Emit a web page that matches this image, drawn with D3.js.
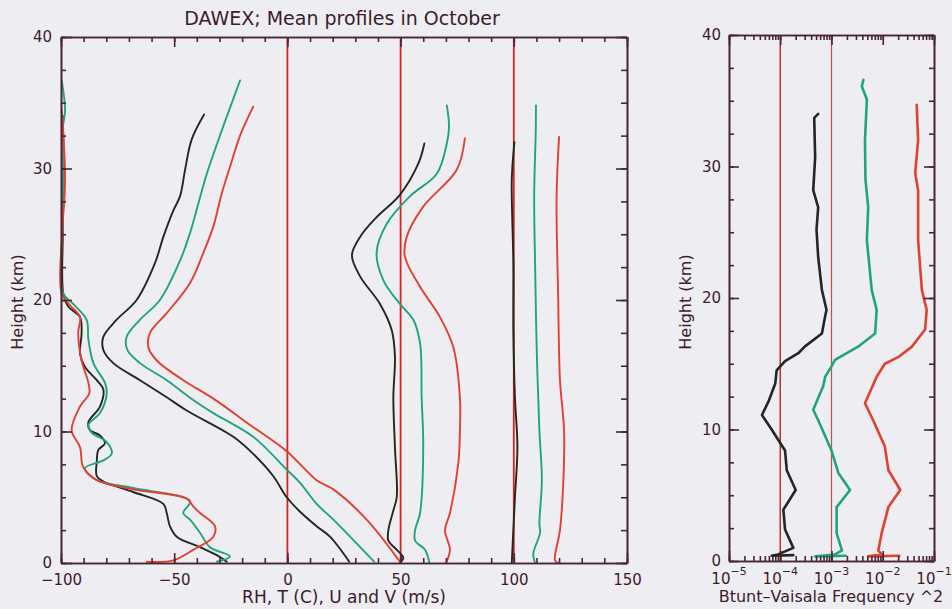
<!DOCTYPE html>
<html lang="en">
<head>
<meta charset="UTF-8">
<title>DAWEX; Mean profiles in October</title>
<script src="https://d3js.org/d3.v7.min.js"></script>
<style>
  body { margin: 0; background: #eeedf2; }
  svg { display: block; }
  text { font-family: "DejaVu Sans", sans-serif; fill: #3b1b2c; }
  .axis path, .axis line { stroke: #4a2438; stroke-width: 1.6; }
  .axis text { font-size: 15px; }
  .curve { fill: none; stroke-linejoin: round; stroke-linecap: round; }
</style>
</head>
<body>
<svg id="chart" width="952" height="609"></svg>
<script>
// tick labels and reference lines
const heightTicks = [0, 10, 20, 30, 40];
const xTickLabels = [-100, -50, 0, 50, 100, 150];
const refLines = [0, 50, 100];
const n2Decades = [1e-5, 1e-4, 1e-3, 1e-2, 1e-1];
const n2RefLines = [1e-4, 1e-3];

// profiles as [x value, height km]
const rhBlack = [[-99.2, 34.0], [-98.8, 30], [-99.2, 25], [-99, 20.5], [-96.8, 19.5], [-91.6, 18.7], [-90.9, 17.5], [-91.6, 15.9], [-89.4, 14.9], [-84.2, 13.9], [-81.3, 13.2], [-82.8, 11.9], [-87.9, 10.7], [-87.2, 10.1], [-82.8, 9.7], [-80.6, 9.1], [-83.5, 8.6], [-84.2, 7.7], [-84.2, 6.6], [-81.3, 6.2], [-68.1, 5.4], [-54.8, 4.5], [-53.3, 3.8], [-51.9, 2.8], [-48.9, 2.0], [-38.6, 1.2], [-31.2, 0.6], [-26.8, 0.1]];
const rhGreen = [[-99.7, 36.7], [-98.2, 34.4], [-99.3, 33], [-99, 31.4], [-99.2, 26], [-99, 20.5], [-94.6, 19.7], [-88.7, 18.5], [-87.9, 17.0], [-85.7, 15.2], [-80.6, 13.7], [-79.8, 12.9], [-82.8, 11.4], [-87.9, 10.5], [-86.4, 9.9], [-79.8, 9.2], [-77.6, 8.3], [-81.3, 7.8], [-89.4, 7.2], [-84.2, 6.3], [-68.1, 5.7], [-43.0, 4.7], [-46.0, 3.8], [-43.0, 3.3], [-38.6, 2.3], [-34.2, 1.2], [-25.4, 0.5], [-31.2, 0.1]];
const rhRed = [[-99.7, 34.4], [-98.2, 29.1], [-99.5, 25], [-99.7, 20.5], [-96.0, 19.6], [-91.6, 18.7], [-92.4, 17.5], [-90.9, 15.4], [-87.9, 13.7], [-87.5, 12.9], [-91.6, 11.9], [-95.3, 10.1], [-91.6, 8.8], [-90.2, 7.3], [-84.2, 6.3], [-68.1, 5.6], [-44.5, 4.9], [-41.6, 4.3], [-38.6, 3.8], [-32.0, 2.8], [-32.7, 2.0], [-41.6, 1.0], [-50.4, 0.2], [-62.1, 0.1]];

const tBlack = [[-36.8, 34.1], [-42.3, 32.2], [-45.2, 29.9], [-47.4, 27.9], [-50.4, 26.8], [-54.8, 24.8], [-58.5, 22.8], [-66.6, 20.0], [-75.4, 18.5], [-81.3, 17.2], [-81.3, 16.2], [-76.9, 15.2], [-65.1, 13.9], [-53.3, 12.6], [-44.5, 11.6], [-23.9, 9.6], [-15.1, 8.3], [-6.2, 6.6], [-0.3, 5.0], [5.6, 3.9], [12.9, 2.8], [18.8, 2.0], [27.3, 0.1]];
const tGreen = [[-20.9, 36.7], [-23.9, 35.3], [-29.8, 32.5], [-35.6, 29.6], [-38.6, 27.8], [-43.0, 25.1], [-47.4, 23.0], [-56.3, 20.0], [-65.1, 18.5], [-71.0, 17.2], [-70.7, 16.2], [-65.1, 15.2], [-53.3, 13.9], [-41.6, 12.4], [-32.7, 11.4], [-15.1, 9.6], [-0.3, 7.1], [5.6, 6.1], [12.9, 4.5], [20.3, 3.3], [38.3, 0.1]];
const tRed = [[-15.1, 34.7], [-20.9, 32.5], [-25.4, 30.1], [-29.0, 28.1], [-32.7, 25.6], [-37.1, 23.6], [-43.0, 21.3], [-53.3, 19.0], [-60.7, 17.5], [-61.4, 16.4], [-57.7, 15.4], [-46.0, 13.9], [-32.7, 12.5], [-16.5, 10.5], [-0.3, 8.5], [12.9, 6.3], [20.3, 5.6], [35.0, 3.3], [49.7, 0.1]];

const uBlack = [[60.5, 31.9], [57.9, 30.4], [49.7, 28.0], [39.4, 26.3], [32.1, 24.8], [28.5, 23.4], [32.1, 21.8], [40.9, 19.7], [46.1, 17.7], [47.5, 15.7], [46.8, 12.6], [47.5, 8.8], [48.3, 5.0], [46.8, 4.0], [44.6, 2.5], [44.6, 1.7], [48.3, 1.0], [51.2, 0.4], [49.7, 0.0]];
const uGreen = [[70.4, 34.8], [71.4, 33.2], [70.4, 31.9], [66.0, 29.6], [54.2, 27.9], [43.9, 25.8], [39.4, 23.6], [42.4, 21.5], [49.7, 19.7], [55.6, 18.5], [58.6, 16.7], [59.3, 12.6], [60.0, 8.8], [58.6, 3.8], [56.4, 2.5], [56.4, 1.7], [60.8, 1.0], [62.7, 0.0]];
const uRed = [[78.4, 32.3], [74.8, 29.9], [60.0, 27.1], [52.7, 24.8], [51.9, 23.3], [58.6, 21.0], [67.4, 18.7], [73.3, 16.4], [76.2, 12.6], [76.2, 10.1], [75.5, 7.6], [71.8, 3.8], [69.6, 2.5], [71.8, 1.0], [70.1, 0.0]];

const vBlack = [[100.3, 32.0], [100.1, 31.7], [99.1, 29.1], [99.8, 22.8], [99.8, 17.7], [100.5, 12.6], [101.6, 8.8], [100.5, 5.0], [99.8, 2.5], [99.1, 0.0]];
const vGreen = [[109.8, 34.8], [109.7, 32.9], [109.0, 27.9], [109.4, 22.8], [110.1, 16.4], [111.3, 10.1], [112.4, 6.3], [111.3, 3.0], [111.6, 2.3], [108.6, 0.7], [109.4, 0.0]];
const vRed = [[120.0, 32.4], [118.9, 27.9], [119.6, 20.2], [120.4, 13.9], [122.2, 10.1], [121.9, 6.3], [120.4, 2.5], [118.2, 0.2], [119.6, 0.0]];

// Brunt-Vaisala frequency squared, [N^2, height km]
const n2Black = [[5.5e-4, 34.0], [4.6e-4, 33.7], [4.8e-4, 30.7], [4.4e-4, 28.2], [5.5e-4, 26.9], [5.1e-4, 25.2], [5.5e-4, 23.1], [6.5e-4, 20.6], [8.0e-4, 19.1], [7.5e-4, 18.6], [6.5e-4, 17.3], [3.0e-4, 16.3], [2.25e-4, 15.8], [1.24e-4, 15.2], [8.5e-5, 14.5], [8.0e-5, 13.5], [6.0e-5, 12.2], [4.4e-5, 11.1], [6.8e-5, 10.0], [1.24e-4, 8.4], [1.34e-4, 6.9], [2.0e-4, 5.4], [1.15e-4, 3.9], [1.24e-4, 2.4], [1.8e-4, 1.0], [9.1e-5, 0.5], [6.8e-5, 0.4], [1.8e-4, 0.45]];
const n2Green = [[4.2e-3, 36.6], [3.9e-3, 36.1], [4.9e-3, 35.1], [4.5e-3, 32.0], [4.6e-3, 29], [5.2e-3, 26.9], [4.9e-3, 24.4], [6.1e-3, 20.6], [7.6e-3, 19.1], [7.1e-3, 17.3], [3.3e-3, 16.3], [1.17e-3, 15.3], [1.0e-3, 14.8], [7.5e-4, 14.0], [6.9e-4, 13.3], [4.4e-4, 11.5], [5.5e-4, 10.7], [1.0e-3, 8.4], [1.36e-3, 6.7], [2.3e-3, 5.4], [1.26e-3, 4.1], [1.26e-3, 2.1], [1.6e-3, 0.8], [1.17e-3, 0.5], [4.8e-4, 0.35], [1.9e-3, 0.4]];
const n2Red = [[4.6e-2, 34.7], [4.9e-2, 32.0], [4.3e-2, 29.5], [4.9e-2, 28.2], [4.9e-2, 24.4], [5.8e-2, 20.6], [7.2e-2, 19.1], [6.7e-2, 17.6], [3.7e-2, 16.3], [2.0e-2, 15.5], [1.1e-2, 15.0], [7.6e-3, 14.0], [4.5e-3, 12.0], [6.5e-3, 10.7], [1.1e-2, 8.7], [1.29e-2, 6.9], [2.2e-2, 5.4], [1.29e-2, 4.1], [9.5e-3, 2.1], [8.2e-3, 0.8], [9.5e-3, 0.5], [5.2e-3, 0.35], [2.1e-2, 0.4]];

const BLACK = "#1f2922", GREEN = "#1fa57a", RED = "#e3402f";

const svg = d3.select("#chart");

// ---- left panel ----
const x = d3.scaleLinear().domain([-100, 150]).range([61, 627]);
const y = d3.scaleLinear().domain([0, 40]).range([563, 37]);

svg.selectAll(".ref").data(refLines).enter().append("line")
    .attr("x1", d => x(d)).attr("x2", d => x(d))
    .attr("y1", y(0)).attr("y2", y(40))
    .attr("stroke", "#d8261e").attr("stroke-width", 1.8);

const lineL = d3.line().x(d => x(d[0])).y(d => y(d[1])).curve(d3.curveCatmullRom);
const leftSeries = [
    [rhBlack, BLACK], [rhGreen, GREEN], [rhRed, RED],
    [tBlack, BLACK], [tGreen, GREEN], [tRed, RED],
    [uBlack, BLACK], [uGreen, GREEN], [uRed, RED],
    [vBlack, BLACK], [vGreen, GREEN], [vRed, RED]
];
svg.selectAll(".curveL").data(leftSeries).enter().append("path")
    .attr("class", "curve")
    .attr("d", d => lineL(d[0]))
    .attr("stroke", d => d[1])
    .attr("stroke-width", 1.9);

const minorX = d3.range(-100, 151, 10);
const minorY = d3.range(0, 40.01, 2.5);

function addAxis(axis, tx, ty) {
    return svg.append("g").attr("class", "axis")
        .attr("transform", `translate(${tx},${ty})`).call(axis);
}
addAxis(d3.axisBottom(x).tickValues(minorX).tickSize(-5).tickSizeOuter(0).tickFormat(""), 0, y(0));
addAxis(d3.axisBottom(x).tickValues(xTickLabels).tickSize(-10).tickSizeOuter(0).tickPadding(11), 0, y(0));
addAxis(d3.axisTop(x).tickValues(minorX).tickSize(-5).tickSizeOuter(0).tickFormat(""), 0, y(40));
addAxis(d3.axisTop(x).tickValues(xTickLabels).tickSize(-10).tickSizeOuter(0).tickFormat(""), 0, y(40));
addAxis(d3.axisLeft(y).tickValues(minorY).tickSize(-5).tickSizeOuter(0).tickFormat(""), x(-100), 0);
addAxis(d3.axisLeft(y).tickValues(heightTicks).tickSize(-11).tickSizeOuter(0).tickPadding(9), x(-100), 0);
addAxis(d3.axisRight(y).tickValues(minorY).tickSize(-6).tickSizeOuter(0).tickFormat(""), x(150), 0);
addAxis(d3.axisRight(y).tickValues(heightTicks).tickSize(-11).tickSizeOuter(0).tickFormat(""), x(150), 0);

svg.append("text").attr("x", 342).attr("y", 25).attr("text-anchor", "middle")
    .style("font-size", "19px").text("DAWEX; Mean profiles in October");
svg.append("text").attr("x", 344).attr("y", 603).attr("text-anchor", "middle")
    .style("font-size", "17px").text("RH, T (C), U and V (m/s)");
svg.append("text").attr("transform", "translate(23,302) rotate(-90)").attr("text-anchor", "middle")
    .style("font-size", "16px").text("Height (km)");

// ---- right panel ----
const xr = d3.scaleLog().domain([1e-5, 1e-1]).range([729, 934]);
const yr = d3.scaleLinear().domain([0, 40]).range([561, 35]);

svg.selectAll(".refR").data(n2RefLines).enter().append("line")
    .attr("x1", d => xr(d)).attr("x2", d => xr(d))
    .attr("y1", yr(0)).attr("y2", yr(40))
    .attr("stroke", (d, i) => i === 0 ? "#b8222a" : "#c4533e")
    .attr("stroke-width", (d, i) => i === 0 ? 1.4 : 1.2);

const lineR = d3.line().x(d => xr(d[0])).y(d => yr(d[1]));
const rightSeries = [[n2Black, BLACK], [n2Green, GREEN], [n2Red, RED]];
svg.selectAll(".curveR").data(rightSeries).enter().append("path")
    .attr("class", "curve")
    .attr("d", d => lineR(d[0]))
    .attr("stroke", d => d[1])
    .attr("stroke-width", 2.6);

const minorLog = xr.ticks();
addAxis(d3.axisBottom(xr).tickValues(minorLog).tickSize(-5).tickSizeOuter(0).tickFormat(""), 0, yr(0));
addAxis(d3.axisBottom(xr).tickValues(n2Decades).tickSize(-10).tickSizeOuter(0).tickFormat(""), 0, yr(0));
addAxis(d3.axisTop(xr).tickValues(minorLog).tickSize(-5).tickSizeOuter(0).tickFormat(""), 0, yr(40));
addAxis(d3.axisTop(xr).tickValues(n2Decades).tickSize(-10).tickSizeOuter(0).tickFormat(""), 0, yr(40));
addAxis(d3.axisLeft(yr).tickValues(minorY).tickSize(-5).tickSizeOuter(0).tickFormat(""), xr(1e-5), 0);
addAxis(d3.axisLeft(yr).tickValues(heightTicks).tickSize(-10).tickSizeOuter(0).tickPadding(8), xr(1e-5), 0);
addAxis(d3.axisRight(yr).tickValues(minorY).tickSize(-5).tickSizeOuter(0).tickFormat(""), xr(1e-1), 0);
addAxis(d3.axisRight(yr).tickValues(heightTicks).tickSize(-10).tickSizeOuter(0).tickFormat(""), xr(1e-1), 0);

const decLabels = svg.selectAll(".dec").data(n2Decades).enter().append("text")
    .attr("x", d => xr(d)).attr("y", 584).attr("text-anchor", "middle")
    .style("font-size", "15px");
decLabels.append("tspan").text("10");
decLabels.append("tspan").attr("dy", -9).style("font-size", "11px")
    .text(d => "\u2212" + Math.round(-Math.log10(d)));

svg.append("text").attr("x", 831).attr("y", 602).attr("text-anchor", "middle")
    .style("font-size", "16px").text("Btunt\u2013Vaisala Frequency ^2");
svg.append("text").attr("transform", "translate(691,302) rotate(-90)").attr("text-anchor", "middle")
    .style("font-size", "16px").text("Height (km)");
</script>
</body>
</html>
